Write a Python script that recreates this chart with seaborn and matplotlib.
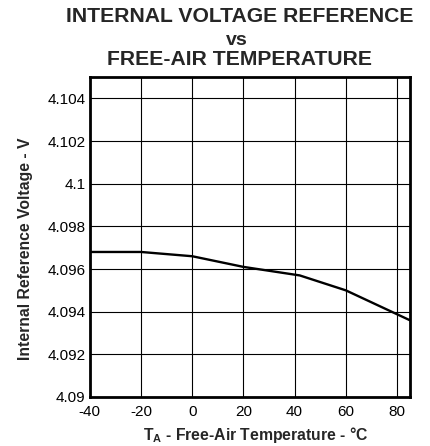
import numpy as np
import pandas as pd
import matplotlib
matplotlib.use("Agg")
import matplotlib.pyplot as plt
import seaborn as sns

# values
temperature = [-40, -20, 0, 20, 42, 60, 85]
vref = [4.0968, 4.0968, 4.0966, 4.0961, 4.0957, 4.0950, 4.0936]

x_ticks = [-40, -20, 0, 20, 40, 60, 80]
y_ticks = [4.09, 4.092, 4.094, 4.096, 4.098, 4.1, 4.102, 4.104]
y_tick_labels = ["4.09", "4.092", "4.094", "4.096", "4.098", "4.1", "4.102", "4.104"]

sns.set_style("white")
plt.rcParams['font.family'] = ['Liberation Sans', 'DejaVu Sans']
plt.rcParams['mathtext.fontset'] = 'custom'
plt.rcParams['mathtext.rm'] = 'Liberation Sans'
plt.rcParams['mathtext.bf'] = 'Liberation Sans:bold'

df = pd.DataFrame({"T": temperature, "V": vref})

fig = plt.figure(figsize=(4.3, 4.46), dpi=100)
ax = fig.add_axes([0.209, 0.110, 0.744, 0.717])

sns.lineplot(data=df, x="T", y="V", ax=ax, color="black", linewidth=1.7)

ax.set_xlim(-40, 85)
ax.set_ylim(4.09, 4.105)
ax.set_xticks(x_ticks)
ax.set_xticklabels([str(t) for t in x_ticks])
ax.set_yticks(y_ticks)
ax.set_yticklabels(y_tick_labels)
ax.tick_params(axis='both', length=0, labelsize=11, colors='black')
ax.tick_params(axis='y', pad=3)
ax.tick_params(axis='x', pad=6)
ax.grid(True, color='black', linewidth=0.8)
for s in ax.spines.values():
    s.set_visible(True)
    s.set_color('black')
    s.set_linewidth(2.0)

ax.set_xlabel(r"$\mathbf{T_A}$ - Free-Air Temperature - °C", fontsize=11.3, fontweight='bold')
ax.set_ylabel("Internal Reference Voltage - V", fontsize=11.3, fontweight='bold')
ax.xaxis.set_label_coords(0.519, -0.088)
ax.yaxis.set_label_coords(-0.178, 0.4625)

fig.text(0.558, 0.951, "INTERNAL VOLTAGE REFERENCE", ha='center', va='baseline', fontsize=15.2, fontweight='bold')
fig.text(0.551, 0.899, "vs", ha='center', va='baseline', fontsize=14, fontweight='bold')
fig.text(0.558, 0.854, "FREE-AIR TEMPERATURE", ha='center', va='baseline', fontsize=15.2, fontweight='bold')

fig.savefig("out.png", dpi=100)
